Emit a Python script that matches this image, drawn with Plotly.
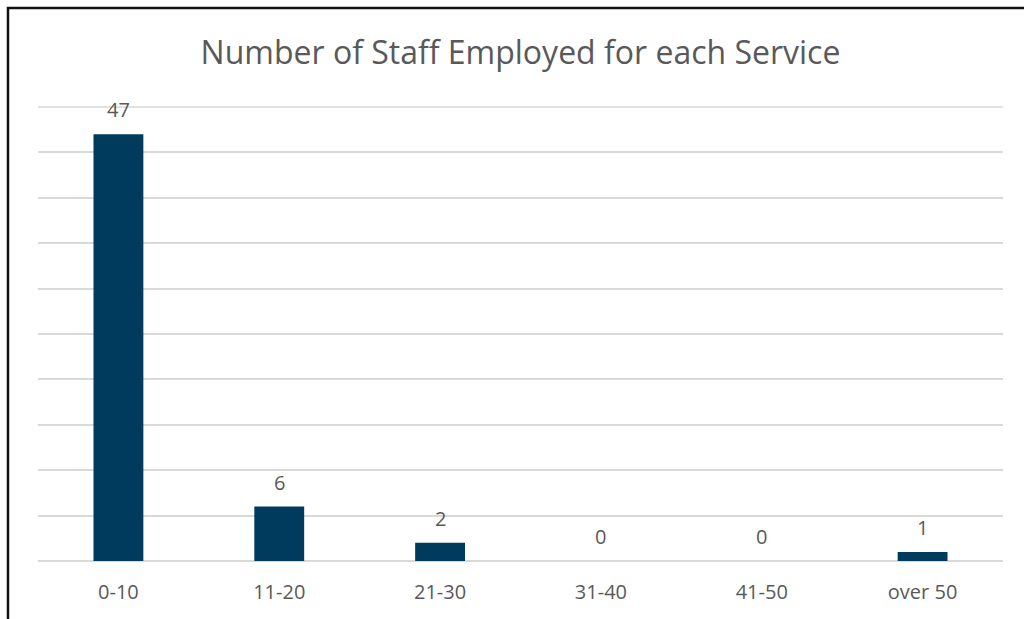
import plotly.graph_objects as go

# Staff-count bands and number of services in each
bands = ["0-10", "11-20", "21-30", "31-40", "41-50", "over 50"]
services = [47, 6, 2, 0, 0, 1]

BAR_COLOR = "#003A5D"
TEXT_COLOR = "#595959"
GRID_COLOR = "#D9D9D9"
FONT = "Open Sans"
Y_MAX = 50

fig = go.Figure(
    go.Bar(
        x=bands,
        y=services,
        marker=dict(color=BAR_COLOR, line=dict(width=0)),
        width=0.31,
        hoverinfo="x+y",
    )
)

# value labels above each column
for b, v in zip(bands, services):
    fig.add_annotation(
        x=b, y=v, text=str(v), showarrow=False,
        yanchor="bottom", yshift=9,
        font=dict(family=FONT, size=20, color=TEXT_COLOR),
    )

# top gridline along the upper edge of the plot area (axis maximum)
fig.add_shape(
    type="line", xref="paper", yref="paper",
    x0=0, x1=1, y0=1, y1=1,
    line=dict(color=GRID_COLOR, width=1.5), layer="below",
)

# chart frame (top and left edges visible)
fig.add_shape(
    type="path", xref="paper", yref="paper",
    path="M -0.0311 -0.2 L -0.0311 1.2181 L 1.05 1.2181",
    line=dict(color="#111111", width=2.5),
)

fig.update_layout(
    width=1024, height=619,
    margin=dict(l=38, r=21, t=107, b=58),
    paper_bgcolor="white", plot_bgcolor="white",
    showlegend=False,
    title=dict(
        text="Number of Staff Employed for each Service",
        x=0.5, xref="paper", xanchor="center",
        y=1 - 53 / 619, yref="container", yanchor="middle",
        font=dict(family=FONT, size=32, color=TEXT_COLOR),
    ),
    xaxis=dict(
        showgrid=False, showline=False, zeroline=False,
        tickfont=dict(family=FONT, size=20, color=TEXT_COLOR),
        ticklabelstandoff=17,
    ),
    yaxis=dict(
        range=[0, Y_MAX], dtick=5, showticklabels=False,
        showgrid=True, gridcolor=GRID_COLOR, gridwidth=1.5,
        zeroline=True, zerolinecolor=GRID_COLOR, zerolinewidth=1.5,
        showline=False,
    ),
)

fig.write_html("out.html")
